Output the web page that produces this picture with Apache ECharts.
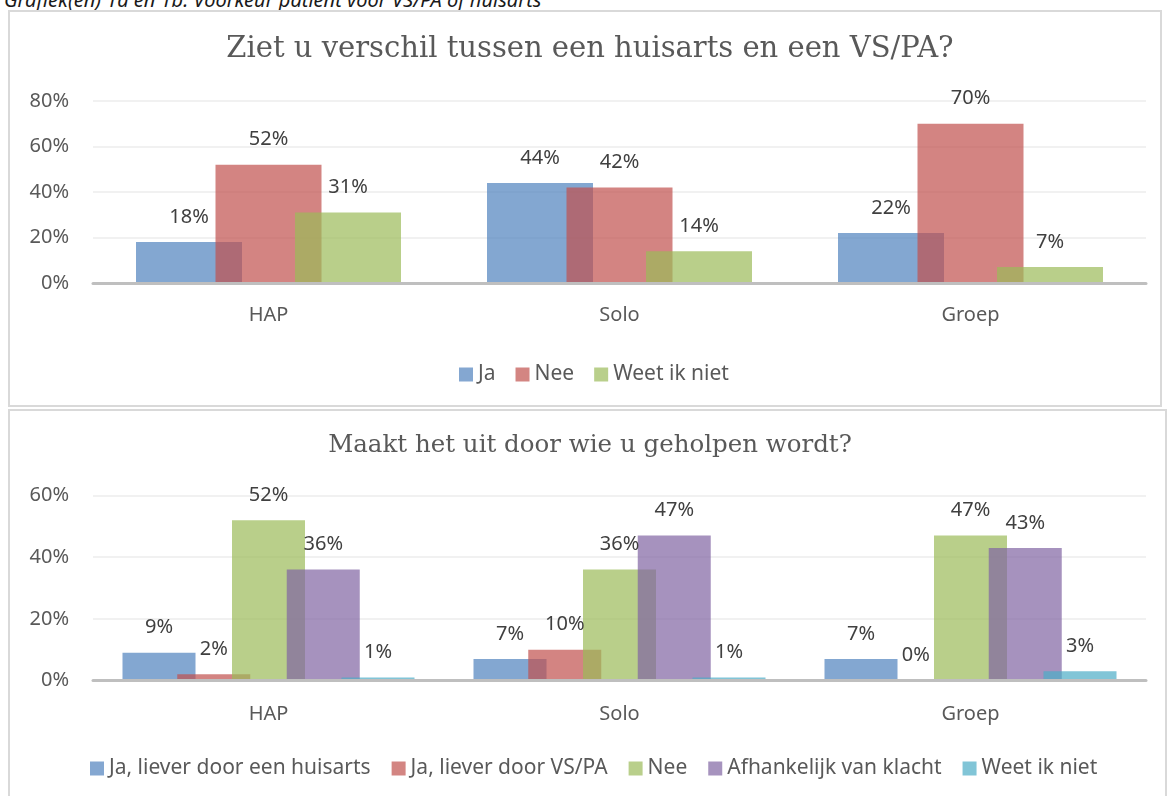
<!DOCTYPE html>
<html>
<head>
<meta charset="utf-8">
<script src="https://cdn.jsdelivr.net/npm/echarts@6/dist/echarts.min.js"></script>
<style>
  html, body { margin: 0; padding: 0; background: #fff; }
  body { width: 1168px; height: 796px; position: relative; overflow: hidden; }
  .caption {
    position: absolute; left: 4px; top: -10px;
    font: italic 20px/20px 'Noto Sans', sans-serif; color: #1a1a1a;
    white-space: nowrap;
  }
  .box { position: absolute; border: 2px solid #d9d9d9; box-sizing: border-box; }
  .chart { position: absolute; left: 0; top: 0; width: 1168px; height: 796px; }
</style>
</head>
<body>
<div class="caption">Grafiek(en) 1a en 1b: Voorkeur patiënt voor VS/PA of huisarts</div>
<div class="box" style="left:8px;top:10px;width:1154px;height:397px;"></div>
<div class="box" style="left:8px;top:409px;width:1159px;height:400px;"></div>
<div class="chart" id="top"></div>
<div class="chart" id="bottom"></div>
<script>
// categorieen
const categories = ['HAP', 'Solo', 'Groep']

// grafiek 1a: Ziet u verschil tussen een huisarts en een VS/PA?
const q1Ja = [18, 44, 22]
const q1Nee = [52, 42, 70]
const q1WeetNiet = [31, 14, 7]
const q1Max = 80

// grafiek 1b: Maakt het uit door wie u geholpen wordt?
const q2Huisarts = [9, 7, 7]
const q2VsPa = [2, 10, 0]
const q2Nee = [52, 36, 47]
const q2Klacht = [36, 47, 43]
const q2WeetNiet = [1, 1, 3]
const q2Max = 60

const tickStep = 20

// office kleuren, half doorzichtig
const blue = '#4F81BD', red = '#C0504D', green = '#9BBB59', purple = '#8064A2', aqua = '#4BACC6'
const alpha = 0.7
function rgb(hex) {
  const n = parseInt(hex.slice(1), 16)
  return [(n >> 16) & 255, (n >> 8) & 255, n & 255]
}
function see(hex) {
  return 'rgba(' + rgb(hex).join(',') + ',' + alpha + ')'
}
function mix(hex) {
  const c = rgb(hex).map(v => Math.round(v * alpha + 255 * (1 - alpha)))
  return 'rgb(' + c.join(',') + ')'
}

const sans = "'Noto Sans', sans-serif"
const serif = "'DejaVu Serif', serif"

function barSeries(name, data, color, width) {
  return {
    name: name,
    type: 'bar',
    data: data,
    barWidth: width,
    barGap: '-25%',
    itemStyle: { color: see(color) },
    label: {
      show: true,
      position: 'top',
      distance: 15,
      formatter: '{c}%',
      color: '#404040',
      fontFamily: sans,
      fontSize: 20,
    },
  }
}

function baseOption(title, titleTop, titleSize, gridTop, gridBottom, yMax, labelMargin) {
  return {
    animation: false,
    title: {
      text: title,
      left: 590,
      textAlign: 'center',
      top: titleTop,
      padding: 0,
      textStyle: { fontFamily: serif, fontSize: titleSize, fontWeight: 'normal', color: '#595959' },
    },
    grid: { left: 93, right: 22, top: gridTop, bottom: gridBottom },
    xAxis: {
      type: 'category',
      data: categories,
      z: 5,
      axisLine: { lineStyle: { color: '#bfbfbf', width: 3 } },
      axisTick: { show: false },
      axisLabel: { color: '#595959', fontFamily: sans, fontSize: 20, margin: labelMargin },
    },
    yAxis: {
      type: 'value',
      min: 0,
      max: yMax,
      interval: tickStep,
      axisLine: { show: false },
      axisTick: { show: false },
      splitLine: { lineStyle: { color: '#ececec', width: 1.5 } },
      axisLabel: { color: '#595959', fontFamily: sans, fontSize: 20, margin: 24, formatter: '{value}%' },
    },
  }
}

function legendOf(items, left, top, gap) {
  return {
    left: left,
    top: top,
    padding: 0,
    itemWidth: 14,
    itemHeight: 14,
    itemGap: gap,
    icon: 'rect',
    textStyle: { color: '#595959', fontFamily: sans, fontSize: 21 },
    data: items.map(it => ({ name: it[0], itemStyle: { color: mix(it[1]) } })),
  }
}

// bovenste grafiek
let topChart = echarts.init(document.getElementById('top'))
let topOpt = baseOption('Ziet u verschil tussen een huisarts en een VS/PA?', 35, 29, 101, 796 - 283, q1Max, 22)
topOpt.legend = legendOf([['Ja', blue], ['Nee', red], ['Weet ik niet', green]], 459, 364, 20)
topOpt.series = [
  barSeries('Ja', q1Ja, blue, 106),
  barSeries('Nee', q1Nee, red, 106),
  barSeries('Weet ik niet', q1WeetNiet, green, 106),
]
topChart.setOption(topOpt)

// onderste grafiek
let bottomChart = echarts.init(document.getElementById('bottom'))
let botOpt = baseOption('Maakt het uit door wie u geholpen wordt?', 433, 24.5, 495.5, 796 - 680.5, q2Max, 24)
botOpt.legend = legendOf([
  ['Ja, liever door een huisarts', blue],
  ['Ja, liever door VS/PA', red],
  ['Nee', green],
  ['Afhankelijk van klacht', purple],
  ['Weet ik niet', aqua],
], 90, 758, 21)
botOpt.series = [
  barSeries('Ja, liever door een huisarts', q2Huisarts, blue, 73),
  barSeries('Ja, liever door VS/PA', q2VsPa, red, 73),
  barSeries('Nee', q2Nee, green, 73),
  barSeries('Afhankelijk van klacht', q2Klacht, purple, 73),
  barSeries('Weet ik niet', q2WeetNiet, aqua, 73),
]
bottomChart.setOption(botOpt)
</script>
</body>
</html>
